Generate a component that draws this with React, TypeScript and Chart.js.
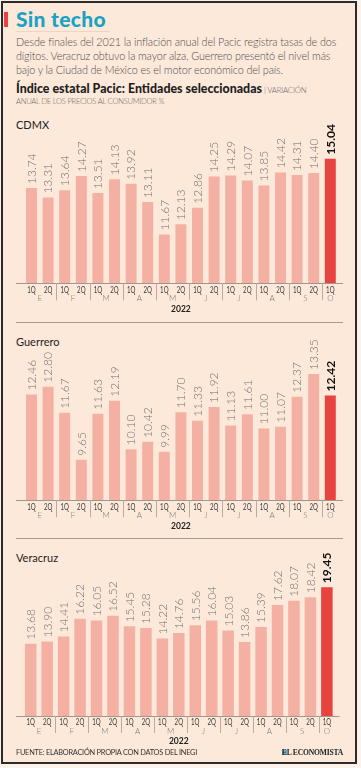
import React, { useEffect, useRef } from "react";
import { Chart, registerables } from "chart.js";

Chart.register(...registerables);

const periods = ["1Q", "2Q", "1Q", "2Q", "1Q", "2Q", "1Q", "2Q", "1Q", "2Q", "1Q", "2Q", "1Q", "2Q", "1Q", "2Q", "1Q", "2Q", "1Q"];
const months = ["E", "F", "M", "A", "M", "J", "J", "A", "S", "O"];
const year = "2022";

const cdmx = [13.74, 13.31, 13.64, 14.27, 13.51, 14.13, 13.92, 13.11, 11.67, 12.13, 12.86, 14.25, 14.29, 14.07, 13.85, 14.42, 14.31, 14.4, 15.04];
const guerrero = [12.46, 12.8, 11.67, 9.65, 11.63, 12.19, 10.1, 10.42, 9.99, 11.7, 11.33, 11.92, 11.13, 11.61, 11.0, 11.07, 12.37, 13.35, 12.42];
const veracruz = [13.68, 13.9, 14.41, 16.22, 16.05, 16.52, 15.45, 15.28, 14.22, 14.76, 15.56, 16.04, 15.03, 13.86, 15.39, 17.62, 18.07, 18.42, 19.45];

const PINK = "#f5b0a4";
const RED = "#e8443f";
const BG = "#fde9da";

const valueLabelPlugin = {
  id: "valueLabels",
  afterDatasetsDraw(chart: any) {
    const ctx = chart.ctx;
    const meta = chart.getDatasetMeta(0);
    const data = chart.data.datasets[0].data as number[];
    const last = data.length - 1;
    meta.data.forEach((bar: any, i: number) => {
      ctx.save();
      ctx.translate(bar.x, bar.y - 4);
      ctx.rotate(-Math.PI / 2);
      ctx.textAlign = "left";
      ctx.textBaseline = "middle";
      ctx.font = i === last ? "bold 12px Lato" : "300 12px Lato";
      ctx.fillStyle = i === last ? "#111" : "#707070";
      ctx.fillText(data[i].toFixed(2), 0, 0.5);
      ctx.restore();
    });
  },
};

const axisPlugin = {
  id: "axisDecor",
  afterDraw(chart: any, _args: any, opts: any) {
    const { ctx, chartArea } = chart;
    const xs = chart.scales.x;
    const base = chartArea.bottom;
    ctx.save();
    ctx.strokeStyle = "#a3958c";
    ctx.lineWidth = 1;
    ctx.beginPath();
    ctx.moveTo(opts.lineLeft, Math.round(base) + 0.5);
    ctx.lineTo(opts.lineRight, Math.round(base) + 0.5);
    ctx.stroke();
    periods.forEach((p, i) => {
      const px = xs.getPixelForValue(i);
      ctx.save();
      ctx.translate(px, base + 9.2);
      ctx.scale(0.72, 1);
      ctx.font = "8.5px Lato";
      ctx.textAlign = "center";
      ctx.textBaseline = "alphabetic";
      ctx.fillStyle = "#3a3a3a";
      ctx.fillText(p, 0, 0);
      ctx.restore();
    });
    const starts = periods.map((p, i) => (p === "1Q" ? i : -1)).filter((i) => i >= 0);
    ctx.strokeStyle = "#b9aba2";
    starts.forEach((s, m) => {
      const end = (m + 1 < starts.length ? starts[m + 1] : periods.length) - 1;
      const cx = (xs.getPixelForValue(s) + xs.getPixelForValue(end)) / 2;
      ctx.font = "300 8px Lato";
      ctx.fillStyle = "#777";
      ctx.textAlign = "center";
      ctx.textBaseline = "alphabetic";
      ctx.fillText(months[m], cx, base + 17.8);
      if (s > 0) {
        const sx = Math.round((xs.getPixelForValue(s - 1) + xs.getPixelForValue(s)) / 2) + 0.5;
        ctx.beginPath();
        ctx.moveTo(sx, base);
        ctx.lineTo(sx, base + 17);
        ctx.stroke();
      }
    });
    ctx.font = "bold 8.5px Lato";
    ctx.fillStyle = "#222";
    ctx.textAlign = "center";
    ctx.fillText(year, (chartArea.left + chartArea.right) / 2, base + 28.3);
    ctx.restore();
  },
};

type PanelProps = {
  values: number[];
  min: number;
  max: number;
  top: number;
  height: number;
  padLeft: number;
  padRight: number;
  padTop: number;
  padBottom: number;
  barPct: number;
  lineLeft: number;
  lineRight: number;
};

function Panel(p: PanelProps) {
  const ref = useRef<HTMLCanvasElement | null>(null);
  useEffect(() => {
    if (!ref.current) return;
    const chart = new Chart(ref.current, {
      type: "bar",
      data: {
        labels: periods,
        datasets: [
          {
            data: p.values,
            backgroundColor: p.values.map((_, i) => (i === p.values.length - 1 ? RED : PINK)),
            borderWidth: 0,
            barPercentage: p.barPct,
            categoryPercentage: 1,
          },
        ],
      },
      options: {
        responsive: false,
        animation: false,
        devicePixelRatio: 1,
        layout: { padding: { left: p.padLeft, right: p.padRight, top: p.padTop, bottom: p.padBottom } },
        plugins: {
          legend: { display: false },
          tooltip: { enabled: false },
          title: { display: false },
          axisDecor: { lineLeft: p.lineLeft, lineRight: p.lineRight },
        } as any,
        scales: {
          x: { display: false, offset: true },
          y: { display: false, min: p.min, max: p.max },
        },
      },
      plugins: [valueLabelPlugin, axisPlugin],
    });
    return () => chart.destroy();
  }, []);
  return (
    <div style={{ position: "absolute", left: 0, top: p.top, width: 361, height: p.height }}>
      <canvas ref={ref} width={361} height={p.height} style={{ display: "block", width: 361, height: p.height }} />
    </div>
  );
}

function T(props: {
  x?: number;
  right?: number;
  baseline: number;
  fs: number;
  weight?: number | string;
  color?: string;
  ls?: number;
  family?: string;
  children: React.ReactNode;
}) {
  const lh = props.fs * 1.2;
  const style: React.CSSProperties = {
    position: "absolute",
    top: props.baseline - 0.987 * props.fs,
    fontSize: props.fs,
    lineHeight: `${lh}px`,
    fontWeight: props.weight ?? 400,
    color: props.color ?? "#555",
    letterSpacing: props.ls ?? 0,
    whiteSpace: "nowrap",
    fontFamily: props.family ?? "Lato, sans-serif",
  };
  if (props.right !== undefined) style.right = props.right;
  else style.left = props.x ?? 16;
  return <div style={style}>{props.children}</div>;
}

export default function App() {
  return (
    <div
      style={{
        position: "absolute",
        left: 0,
        top: 0,
        width: 361,
        height: 768,
        background: "#fcf2ec",
        overflow: "hidden",
        fontFamily: "Lato, sans-serif",
      }}
    >
      <div
        style={{
          position: "absolute",
          left: 1,
          top: 1,
          width: 356,
          height: 763,
          boxSizing: "border-box",
          border: "2px solid #2b2b2b",
          background: BG,
        }}
      />
      <div style={{ position: "absolute", left: 4, top: 12, width: 4, height: 15, background: RED }} />
      <T baseline={26.5} fs={21} weight={900} color="#1ba2c5" ls={0.3}>
        Sin techo
      </T>
      <div style={{ position: "absolute", left: 16, top: 31, width: 94, height: 1, background: "#efd5c6" }} />
      <T baseline={46.5} fs={10.8} weight={300} color="#4d4d4d" ls={-0.12}>
        Desde finales del 2021 la inflación anual del Pacic registra tasas de dos
      </T>
      <T baseline={60.5} fs={10.8} weight={300} color="#4d4d4d" ls={-0.12}>
        dígitos. Veracruz obtuvo la mayor alza, Guerrero presentó el nivel más
      </T>
      <T baseline={74.5} fs={10.8} weight={300} color="#4d4d4d" ls={-0.12}>
        bajo y la Ciudad de México es el motor económico del país.
      </T>
      <T baseline={94.5} fs={12.4} weight={900} color="#1f1f1f" ls={0}>
        Índice estatal Pacic: Entidades seleccionadas
        <span style={{ fontSize: 7.8, fontWeight: 300, color: "#666", letterSpacing: -0.2 }}> | VARIACIÓN</span>
      </T>
      <T baseline={105} fs={7.6} weight={300} color="#666" ls={-0.25}>
        ANUAL DE LOS PRECIOS AL CONSUMIDOR %
      </T>

      <T baseline={129.3} fs={11} weight={400} color="#222">
        CDMX
      </T>
      <Panel
        values={cdmx}
        min={9.5}
        max={15.87}
        top={110}
        height={210}
        padLeft={23.2}
        padRight={22.4}
        padTop={30}
        padBottom={36.7}
        barPct={0.66}
        lineLeft={16}
        lineRight={343}
      />
      <div style={{ position: "absolute", left: 16, top: 322, width: 327, height: 1, background: "#a89a91" }} />

      <T baseline={346} fs={11} weight={400} color="#222">
        Guerrero
      </T>
      <Panel
        values={guerrero}
        min={7.9}
        max={13.95}
        top={330}
        height={205}
        padLeft={23.2}
        padRight={22.4}
        padTop={30}
        padBottom={34.7}
        barPct={0.66}
        lineLeft={16}
        lineRight={343}
      />
      <div style={{ position: "absolute", left: 16, top: 538, width: 327, height: 1, background: "#a89a91" }} />

      <T baseline={561.7} fs={11} weight={400} color="#222">
        Veracruz
      </T>
      <Panel
        values={veracruz}
        min={6.3}
        max={20.69}
        top={545}
        height={205}
        padLeft={22.5}
        padRight={25.9}
        padTop={30}
        padBottom={34}
        barPct={0.7}
        lineLeft={16}
        lineRight={339.5}
      />

      <T baseline={756} fs={7.4} weight={400} color="#333" ls={-0.25}>
        FUENTE: ELABORACIÓN PROPIA CON DATOS DEL INEGI
      </T>
      <div style={{ position: "absolute", left: 282, top: 750, width: 5, height: 5, background: "#6fb7cf" }} />
      <T right={18} baseline={756} fs={7.6} weight={700} color="#222" ls={-0.2} family="'Liberation Serif', serif">
        EL ECONOMISTA
      </T>
    </div>
  );
}
